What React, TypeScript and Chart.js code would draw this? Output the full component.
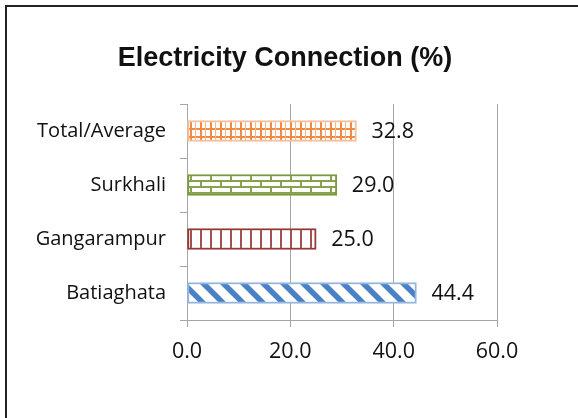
import React, { useEffect, useRef } from "react";
import { Chart, registerables } from "chart.js";

Chart.register(...registerables);

const categories = ["Total/Average", "Surkhali", "Gangarampur", "Batiaghata"];
const values = [32.8, 29.0, 25.0, 44.4];
const xTicks = [0, 20, 40, 60];
const titleText = "Electricity Connection (%)";

function makePattern(w: number, h: number, draw: (c: CanvasRenderingContext2D) => void) {
  const cv = document.createElement("canvas");
  cv.width = w;
  cv.height = h;
  const c = cv.getContext("2d")!;
  c.fillStyle = "#ffffff";
  c.fillRect(0, 0, w, h);
  draw(c);
  return c.createPattern(cv, "repeat")!;
}

export default function App() {
  const ref = useRef<HTMLCanvasElement>(null);
  useEffect(() => {
    const orange = makePattern(10, 8, (c) => {
      c.fillStyle = "#f08a45";
      c.fillRect(0, 0, 10, 2);
      c.fillRect(0, 0, 2, 8);
      c.fillStyle = "#f6b58a";
      c.fillRect(5, 0, 1, 8);
    });
    const green = makePattern(20, 12, (c) => {
      c.fillStyle = "#87a24c";
      c.fillRect(0, 0, 20, 2);
      c.fillRect(0, 6, 20, 2);
      c.fillRect(0, 0, 2, 6);
      c.fillRect(10, 6, 2, 6);
    });
    const red = makePattern(10, 2, (c) => {
      c.fillStyle = "#a4504e";
      c.fillRect(0, 0, 2, 2);
    });
    const blue = makePattern(20, 20, (c) => {
      c.strokeStyle = "#4a80c4";
      c.lineWidth = 5.5;
      for (const o of [-20, 0, 20]) {
        c.beginPath();
        c.moveTo(o - 2, -2);
        c.lineTo(o + 22, 22);
        c.stroke();
      }
    });

    const framePlugin = {
      id: "frame",
      beforeDraw(chart: any) {
        const ctx = chart.ctx;
        ctx.save();
        ctx.fillStyle = "#ffffff";
        ctx.fillRect(0, 0, chart.width, chart.height);
        ctx.strokeStyle = "#222222";
        ctx.lineWidth = 2;
        ctx.strokeRect(6, 6, 700, 600);
        ctx.fillStyle = "#111111";
        ctx.font = "bold 27px 'Liberation Sans', Arial, sans-serif";
        ctx.textAlign = "center";
        ctx.textBaseline = "middle";
        ctx.fillText(titleText, 285, 59);
        ctx.restore();
      },
    };
    const labelPlugin = {
      id: "valueLabels",
      afterDatasetsDraw(chart: any) {
        const ctx = chart.ctx;
        const meta = chart.getDatasetMeta(0);
        ctx.save();
        ctx.fillStyle = "#111111";
        ctx.font = "21.5px 'Open Sans', sans-serif";
        ctx.textAlign = "left";
        ctx.textBaseline = "middle";
        meta.data.forEach((el: any, i: number) => {
          ctx.fillText(values[i].toFixed(1), el.x + 15, el.y + 1);
        });
        ctx.restore();
      },
    };

    const chart = new Chart(ref.current!, {
      type: "bar",
      data: {
        labels: categories,
        datasets: [
          {
            data: values,
            backgroundColor: [orange, green, red, blue] as any,
            borderColor: ["#f9bf98", "#7b9a3e", "#953735", "#95b6df"],
            borderWidth: 2,
            borderSkipped: false,
            barThickness: 21,
          },
        ],
      },
      options: {
        indexAxis: "y",
        responsive: false,
        animation: false,
        events: [],
        layout: { padding: { left: 0, top: 104, right: 81, bottom: 0 } },
        plugins: { legend: { display: false }, tooltip: { enabled: false }, title: { display: false } },
        scales: {
          x: {
            min: 0,
            max: 60,
            afterBuildTicks: (s: any) => {
              s.ticks = xTicks.map((v) => ({ value: v }));
            },
            afterFit: (s: any) => {
              s.height = 98;
            },
            grid: { color: "#a6a6a6", tickLength: 7, lineWidth: 1 },
            border: { color: "#a6a6a6" },
            ticks: {
              padding: 12,
              color: "#111111",
              font: { family: "'Open Sans', sans-serif", size: 21.5 },
              callback: (v: any) => Number(v).toFixed(1),
            },
          },
          y: {
            afterFit: (s: any) => {
              s.width = 187;
            },
            grid: { drawOnChartArea: false, color: "#a6a6a6", tickLength: 7 },
            border: { color: "#a6a6a6" },
            ticks: {
              padding: 14,
              color: "#111111",
              font: { family: "'Open Sans', sans-serif", size: 20 },
            },
          },
        },
      },
      plugins: [framePlugin, labelPlugin],
    });
    return () => chart.destroy();
  }, []);
  return (
    <div style={{ position: "fixed", left: 0, top: 0, width: 578, height: 418 }}>
      <canvas ref={ref} width={578} height={418} />
    </div>
  );
}
